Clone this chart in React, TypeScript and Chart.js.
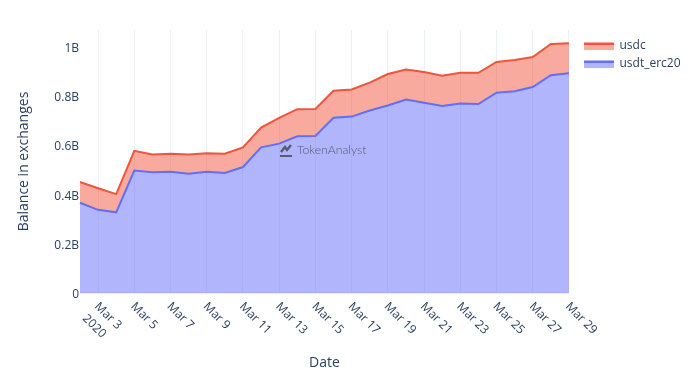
import React, { useEffect, useRef } from "react";
import { Chart, registerables } from "chart.js";

Chart.register(...registerables);

const FONT = '"Open Sans", verdana, arial, sans-serif';
const INK = "#2a3f5f";
const GRID = "rgb(235,240,248)";

const dates = [
  "Mar 2", "Mar 3", "Mar 4", "Mar 5", "Mar 6", "Mar 7", "Mar 8", "Mar 9", "Mar 10", "Mar 11",
  "Mar 12", "Mar 13", "Mar 14", "Mar 15", "Mar 16", "Mar 17", "Mar 18", "Mar 19", "Mar 20",
  "Mar 21", "Mar 22", "Mar 23", "Mar 24", "Mar 25", "Mar 26", "Mar 27", "Mar 28", "Mar 29",
];
const usdtErc20 = [
  0.367, 0.338, 0.328, 0.498, 0.491, 0.493, 0.485, 0.493, 0.488, 0.512, 0.592, 0.607, 0.637, 0.638,
  0.712, 0.717, 0.742, 0.762, 0.786, 0.773, 0.76, 0.77, 0.768, 0.814, 0.82, 0.837, 0.885, 0.893,
];
const usdc = [
  0.084, 0.088, 0.074, 0.08, 0.072, 0.073, 0.078, 0.075, 0.078, 0.08, 0.08, 0.105, 0.11, 0.11,
  0.11, 0.11, 0.113, 0.128, 0.122, 0.125, 0.123, 0.125, 0.127, 0.125, 0.127, 0.122, 0.127, 0.122,
];
const tickedDates = dates.filter((_, i) => i % 2 === 1);
const yearLabel = "2020";
const xTitle = "Date";
const yTitle = "Balance in exchanges";
const watermark = "TokenAnalyst";

function swatch(line: string, fill: string) {
  const c = document.createElement("canvas");
  c.width = 30;
  c.height = 8;
  const g = c.getContext("2d")!;
  g.fillStyle = fill;
  g.fillRect(0, 0, 30, 8);
  g.fillStyle = line;
  g.fillRect(0, 1, 30, 2);
  return c;
}

const legendPlacer = {
  id: "legendPlacer",
  afterLayout(chart: any) {
    const l = chart.legend;
    const w = l.width;
    l.left = 577.5;
    l.right = 577.5 + w;
    l.top = 34;
  },
};

const rotatedTicks = {
  id: "rotatedTicks",
  afterDraw(chart: any) {
    const { ctx, scales } = chart;
    const x = scales.x;
    ctx.save();
    ctx.font = `12px ${FONT}`;
    ctx.fillStyle = INK;
    ctx.textAlign = "left";
    ctx.textBaseline = "alphabetic";
    x.ticks.forEach((t: any, i: number) => {
      const px = x.getPixelForTick(i);
      ctx.save();
      ctx.translate(px - 4, 307);
      ctx.rotate(Math.PI / 4);
      ctx.fillText(t.label, 0, 0);
      if (i === 0) ctx.fillText(yearLabel, 0, 17);
      ctx.restore();
    });
    ctx.restore();
  },
};

const tokenMark = {
  id: "tokenMark",
  afterDatasetsDraw(chart: any) {
    const { ctx } = chart;
    ctx.save();
    ctx.fillStyle = "#565a72";
    ctx.strokeStyle = "#565a72";
    ctx.lineWidth = 2.4;
    ctx.beginPath();
    ctx.moveTo(281, 152);
    ctx.lineTo(285, 147);
    ctx.lineTo(287, 150);
    ctx.lineTo(291, 145);
    ctx.stroke();
    ctx.fillRect(280, 155, 12, 2);
    ctx.font = `300 12.2px Lato, ${FONT}`;
    ctx.textBaseline = "middle";
    ctx.textAlign = "left";
    ctx.fillText(watermark, 297, 150.5);
    ctx.restore();
  },
};

export default function App() {
  const ref = useRef<HTMLCanvasElement>(null);
  useEffect(() => {
    const chart = new Chart(ref.current!, {
      type: "line",
      data: {
        labels: dates,
        datasets: [
          {
            label: "usdt_erc20",
            data: usdtErc20,
            borderColor: "#636EFA",
            backgroundColor: "rgba(99,110,250,0.5)",
            borderWidth: 2,
            pointRadius: 0,
            tension: 0,
            fill: "origin",
          },
          {
            label: "usdc",
            data: usdc,
            borderColor: "#EF553B",
            backgroundColor: "rgba(239,85,59,0.5)",
            borderWidth: 2,
            pointRadius: 0,
            tension: 0,
            fill: "-1",
          },
        ],
      },
      options: {
        responsive: false,
        animation: false,
        layout: { padding: { top: 30, right: 18, left: 0, bottom: 0 } },
        plugins: {
          tooltip: { enabled: false },
          legend: {
            position: "right",
            align: "start",
            reverse: true,
            labels: {
              usePointStyle: true,
              pointStyleWidth: 30,
              padding: 6,
              color: INK,
              font: { family: FONT, size: 12 },
              generateLabels: (c: any) =>
                c.data.datasets.map((d: any, i: number) => ({
                  text: d.label,
                  datasetIndex: i,
                  fontColor: INK,
                  lineWidth: 0,
                  pointStyle: swatch(d.borderColor, d.backgroundColor),
                })),
            },
          },
        },
        scales: {
          x: {
            type: "category",
            afterBuildTicks: (s: any) => {
              s.ticks = s.ticks.filter((t: any) => tickedDates.includes(dates[t.value]));
            },
            afterFit: (s: any) => {
              s.height = 86;
            },
            ticks: { display: false, autoSkip: false },
            grid: { color: GRID, lineWidth: 1, drawTicks: false },
            border: { display: false },
            title: {
              display: true,
              text: xTitle,
              color: INK,
              font: { family: FONT, size: 14 },
              padding: { top: 0, bottom: 8 },
            },
          },
          y: {
            stacked: true,
            min: 0,
            max: 1.069,
            afterFit: (s: any) => {
              s.width = 80;
            },
            ticks: {
              stepSize: 0.2,
              includeBounds: false,
              padding: 1,
              labelOffset: 1.5,
              color: INK,
              font: { family: FONT, size: 12 },
              callback: (v: any) => (v === 0 ? "0" : `${Number(v).toFixed(1).replace(".0", "")}B`),
            },
            grid: {
              drawTicks: false,
              color: (c: any) => (c.tick && c.tick.value === 0 ? GRID : "transparent"),
              lineWidth: (c: any) => (c.tick && c.tick.value === 0 ? 2 : 0),
            },
            border: { display: false },
            title: {
              display: true,
              text: yTitle,
              color: INK,
              font: { family: FONT, size: 14 },
              padding: { top: 16, bottom: 0 },
            },
          },
        },
      } as any,
      plugins: [legendPlacer, rotatedTicks, tokenMark],
    });
    return () => chart.destroy();
  }, []);
  return (
    <div style={{ position: "absolute", left: 0, top: 0, width: 700, height: 379, background: "#fff" }}>
      <canvas ref={ref} width={700} height={379} style={{ display: "block" }} />
    </div>
  );
}
